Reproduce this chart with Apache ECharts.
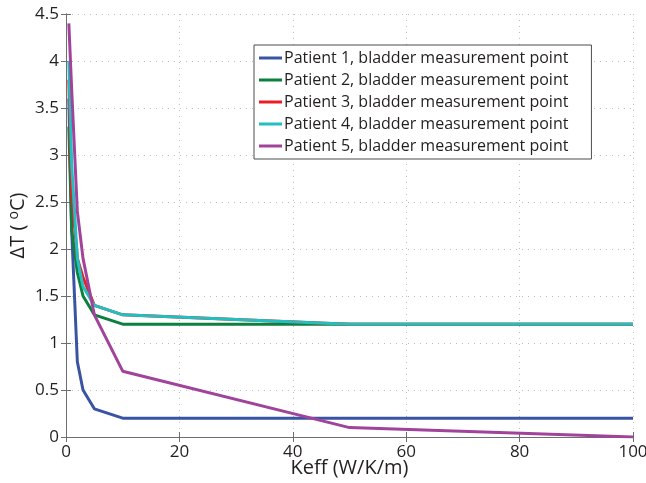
<!DOCTYPE html>
<html>
<head>
<meta charset="utf-8">
<script src="https://cdn.jsdelivr.net/npm/echarts@6/dist/echarts.min.js"></script>
<style>
  html, body { margin: 0; padding: 0; background: #fff; }
  #chart { width: 646px; height: 483px; }
</style>
</head>
<body>
<div id="chart"></div>
<script>
// Effective conductivity samples (W/K/m)
const keff = [0.5, 1, 2, 3, 5, 10, 50, 100];

// Temperature rise at the bladder measurement point, per patient (°C)
const patient1 = [3.6, 2.2, 0.8, 0.5, 0.3, 0.2, 0.2, 0.2];
const patient2 = [3.3, 2.2, 1.75, 1.5, 1.3, 1.2, 1.2, 1.2];
const patient3 = [3.8, 2.6, 1.9, 1.7, 1.4, 1.3, 1.2, 1.2];
const patient4 = [4.0, 2.9, 1.9, 1.6, 1.4, 1.3, 1.2, 1.2];
const patient5 = [4.4, 3.7, 2.4, 1.9, 1.3, 0.7, 0.1, 0.0];

const seriesNames = [
  'Patient 1, bladder measurement point',
  'Patient 2, bladder measurement point',
  'Patient 3, bladder measurement point',
  'Patient 4, bladder measurement point',
  'Patient 5, bladder measurement point'
];
const seriesValues = [patient1, patient2, patient3, patient4, patient5];
const seriesColors = ['#3a54a4', '#0d7f3e', '#ec1c24', '#22bfc0', '#a1439b'];

const xTicks = { min: 0, max: 100, interval: 20 };
const yTicks = { min: 0, max: 4.5, interval: 0.5 };

const textColor = '#231f20';
const frameColor = '#6d6e71';
const font = 'Open Sans';

const frameAxis = {
  axisLine: { show: true, lineStyle: { color: frameColor, width: 1 } },
  axisTick: { show: true, inside: true, length: 5, lineStyle: { color: frameColor } },
  axisLabel: { show: false },
  splitLine: { show: false }
};

const chart = echarts.init(document.getElementById('chart'), null, { renderer: 'canvas' });

chart.setOption({
  animation: false,
  backgroundColor: '#ffffff',
  grid: { left: 66, right: 13, top: 14, bottom: 46, containLabel: false, outerBoundsMode: 'none' },
  legend: {
    orient: 'vertical',
    left: 254,
    top: 45,
    itemGap: 6,
    itemWidth: 23,
    itemHeight: 3,
    icon: 'rect',
    padding: [5, 23, 5, 5],
    backgroundColor: '#ffffff',
    borderColor: '#4d4d4f',
    borderWidth: 1,
    textStyle: { fontFamily: font, fontSize: 16, color: textColor, padding: [0, 0, 0, -3] },
    data: seriesNames
  },
  xAxis: [
    {
      type: 'value',
      min: xTicks.min, max: xTicks.max, interval: xTicks.interval,
      name: 'Keff (W/K/m)',
      nameLocation: 'middle',
      nameGap: 21,
      nameMoveOverlap: false,
      nameTextStyle: { fontFamily: font, fontSize: 20, color: textColor },
      axisLine: { show: true, onZero: false, lineStyle: { color: frameColor } },
      axisTick: { show: true, inside: true, length: 5, lineStyle: { color: frameColor } },
      axisLabel: { fontFamily: font, fontSize: 17, color: textColor, margin: 7 },
      splitLine: { show: true, lineStyle: { color: '#bcbec0', type: [1, 5], width: 1 } }
    },
    Object.assign({ type: 'value', position: 'top', min: xTicks.min, max: xTicks.max, interval: xTicks.interval }, frameAxis)
  ],
  yAxis: [
    {
      type: 'value',
      min: yTicks.min, max: yTicks.max, interval: yTicks.interval,
      name: 'ΔT ( {sup|o}C)',
      nameLocation: 'middle',
      nameGap: 36,
      nameMoveOverlap: false,
      nameRotate: 90,
      nameTextStyle: {
        fontFamily: font, fontSize: 20, color: textColor,
        rich: { sup: { fontFamily: font, fontSize: 14, color: textColor, padding: [0, 0, 9, 0] } }
      },
      axisLine: { show: true, onZero: false, lineStyle: { color: frameColor } },
      axisTick: { show: true, inside: true, length: 5, lineStyle: { color: frameColor } },
      axisLabel: { fontFamily: font, fontSize: 17, color: textColor, margin: 7 },
      splitLine: { show: true, lineStyle: { color: '#bcbec0', type: [1, 5], width: 1 } }
    },
    Object.assign({ type: 'value', position: 'right', min: yTicks.min, max: yTicks.max, interval: yTicks.interval }, frameAxis)
  ],
  series: seriesNames.map((name, i) => ({
    name: name,
    type: 'line',
    xAxisIndex: 0,
    yAxisIndex: 0,
    showSymbol: false,
    symbol: 'none',
    color: seriesColors[i],
    lineStyle: { width: 3, color: seriesColors[i] },
    data: keff.map((k, j) => [k, seriesValues[i][j]])
  }))
});
</script>
</body>
</html>
